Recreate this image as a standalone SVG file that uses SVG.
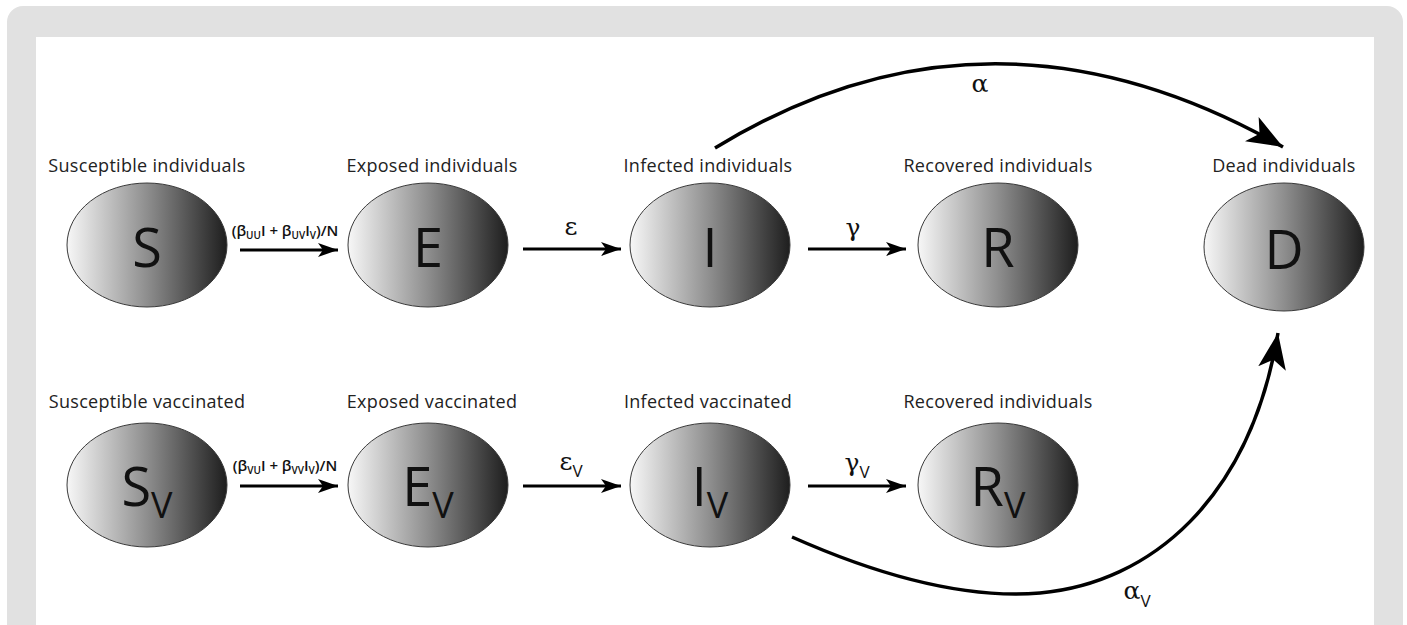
<svg xmlns="http://www.w3.org/2000/svg" width="1407" height="625" viewBox="0 0 1407 625">
<defs>
<linearGradient id="g" x1="0" y1="0" x2="1" y2="0">
<stop offset="0" stop-color="#f7f7f7"/>
<stop offset="0.5" stop-color="#8e8e8e"/>
<stop offset="1" stop-color="#1e1e1e"/>
</linearGradient>
<marker id="ah" markerUnits="userSpaceOnUse" markerWidth="24" markerHeight="14" refX="20" refY="7" orient="auto">
<path d="M0 0 L20 7 L0 14 L5 7 Z" fill="#000"/>
</marker>
<marker id="ahb" markerUnits="userSpaceOnUse" markerWidth="40" markerHeight="28" refX="36" refY="14" orient="auto">
<path d="M0 0 L36 14 L0 28 L9 14 Z" fill="#000"/>
</marker>
<style>
.node{fill:url(#g);stroke:#3a3a3a;stroke-width:1}
.big{font-family:"Open Sans","Liberation Sans",sans-serif;font-size:54px;fill:#111;text-anchor:middle}
.lab{font-family:"Open Sans","Liberation Sans",sans-serif;font-size:18px;letter-spacing:0.3px;fill:#222;text-anchor:middle}
.gr{font-family:"DejaVu Serif","Liberation Serif",serif;font-size:25px;fill:#111;text-anchor:middle}
.sub{font-family:"Open Sans","Liberation Sans",sans-serif;font-size:17px}
.rate{font-family:"Open Sans","Liberation Sans",sans-serif;font-size:15px;font-weight:600;fill:#111;text-anchor:middle}
.ln{stroke:#000;stroke-width:3;fill:none}
.arc{stroke:#000;stroke-width:3.5;fill:none}
</style>
</defs>
<rect x="7" y="6" width="1396" height="660" rx="16" fill="#e1e1e1"/>
<rect x="36" y="37" width="1338" height="620" fill="#fff"/>

<g id="connectors">
<line class="ln" x1="240" y1="250" x2="338" y2="250" marker-end="url(#ah)"/>
<line class="ln" x1="523" y1="249" x2="621" y2="249" marker-end="url(#ah)"/>
<line class="ln" x1="808" y1="249" x2="906" y2="249" marker-end="url(#ah)"/>
<line class="ln" x1="240" y1="486" x2="338" y2="486" marker-end="url(#ah)"/>
<line class="ln" x1="523" y1="486" x2="621" y2="486" marker-end="url(#ah)"/>
<line class="ln" x1="808" y1="486" x2="906" y2="486" marker-end="url(#ah)"/>
<path class="arc" d="M715 148 Q990 -20 1283 147" marker-end="url(#ahb)"/>
<path class="arc" d="M792 537 C900 585 980 598 1040 593 C1150 583 1250 500 1278 333" marker-end="url(#ahb)"/>
<text class="rate" x="285" y="236">(β<tspan font-size="10" dy="3">UU</tspan><tspan dy="-3">I + β</tspan><tspan font-size="10" dy="3">UV</tspan><tspan dy="-3">I</tspan><tspan font-size="10" dy="3">V</tspan><tspan dy="-3">)/N</tspan></text>
<text class="rate" x="285" y="471">(β<tspan font-size="10" dy="3">VU</tspan><tspan dy="-3">I + β</tspan><tspan font-size="10" dy="3">VV</tspan><tspan dy="-3">I</tspan><tspan font-size="10" dy="3">V</tspan><tspan dy="-3">)/N</tspan></text>
<text class="gr" x="571" y="235">ε</text>
<text class="gr" x="853" y="236">γ</text>
<text class="gr" x="571" y="470">ε<tspan class="sub" dy="7">V</tspan></text>
<text class="gr" x="857" y="471">γ<tspan class="sub" dy="7">V</tspan></text>
<text class="gr" x="980" y="92">α</text>
<text class="gr" x="1137" y="599">α<tspan class="sub" dy="8">V</tspan></text>
</g>

<g id="S"><text class="lab" x="147" y="172">Susceptible individuals</text><ellipse class="node" cx="147" cy="245" rx="80" ry="62"/><text class="big" x="147" y="267">S</text></g>
<g id="E"><text class="lab" x="432" y="172">Exposed individuals</text><ellipse class="node" cx="428" cy="245" rx="80" ry="62"/><text class="big" x="428" y="267">E</text></g>
<g id="I"><text class="lab" x="708" y="172">Infected individuals</text><ellipse class="node" cx="710" cy="245" rx="80" ry="62"/><text class="big" x="710" y="267">I</text></g>
<g id="R"><text class="lab" x="998" y="172">Recovered individuals</text><ellipse class="node" cx="998" cy="245" rx="80" ry="62"/><text class="big" x="998" y="267">R</text></g>
<g id="D"><text class="lab" x="1284" y="172">Dead individuals</text><ellipse class="node" cx="1284" cy="247" rx="80" ry="64"/><text class="big" x="1284" y="269">D</text></g>

<g id="Sv"><text class="lab" x="147" y="408">Susceptible vaccinated</text><ellipse class="node" cx="147" cy="485" rx="80" ry="62"/><text class="big" x="147" y="506">S<tspan font-size="36" dy="12">V</tspan></text></g>
<g id="Ev"><text class="lab" x="432" y="408">Exposed vaccinated</text><ellipse class="node" cx="428" cy="485" rx="80" ry="62"/><text class="big" x="428" y="506">E<tspan font-size="36" dy="12">V</tspan></text></g>
<g id="Iv"><text class="lab" x="708" y="408">Infected vaccinated</text><ellipse class="node" cx="710" cy="485" rx="80" ry="62"/><text class="big" x="710" y="506">I<tspan font-size="36" dy="12">V</tspan></text></g>
<g id="Rv"><text class="lab" x="998" y="408">Recovered individuals</text><ellipse class="node" cx="998" cy="485" rx="80" ry="62"/><text class="big" x="998" y="506">R<tspan font-size="36" dy="12">V</tspan></text></g>
</svg>
